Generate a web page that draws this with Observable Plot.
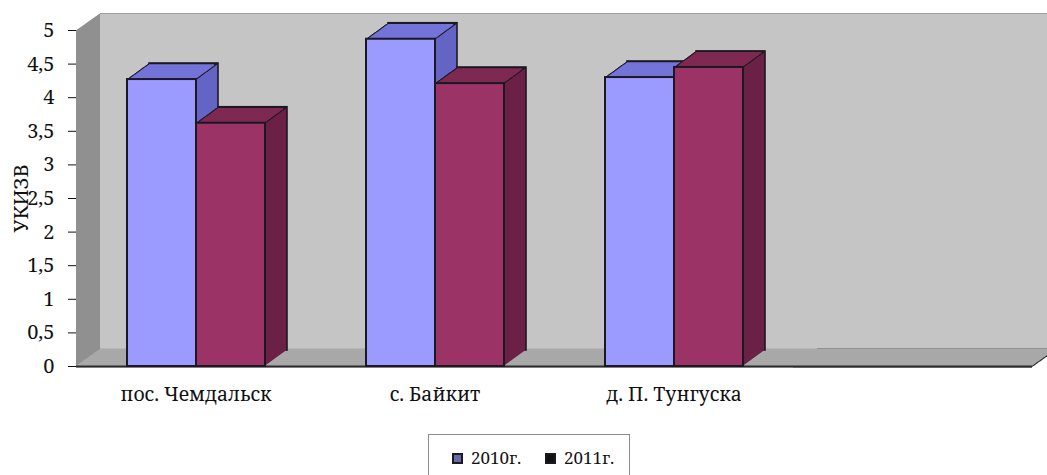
<!DOCTYPE html>
<html><head><meta charset="utf-8">
<script src="https://cdn.jsdelivr.net/npm/d3@7"></script>
<script src="https://cdn.jsdelivr.net/npm/@observablehq/plot@0.6"></script>
<style>
body{margin:0;background:#fff;}
#chart{position:relative;width:1047px;height:475px;overflow:hidden;font-family:"Noto Serif","Liberation Serif",serif;}
#chart svg{position:absolute;left:0;top:0;}
#chart svg [aria-label="y-axis tick"]{stroke:#9a9a9a;}
#chart svg [aria-label="fx-axis tick label"]{font-size:19.4px;}
.legend{position:absolute;left:428px;top:434px;width:202px;height:52px;border:1px solid #8c8c8c;box-sizing:border-box;background:#fff;}
.item{position:absolute;top:12px;font-size:17px;line-height:22px;color:#111;white-space:nowrap;}
.sw{display:inline-block;width:7px;height:7px;border:2px solid #1a1a22;margin-right:8px;vertical-align:0px;}
</style></head><body><div id="chart"></div><script>
const categories = ["пос. Чемдальск", "с. Байкит", "д. П. Тунгуска"];
const slots = [...categories, " "];          // fourth, empty category slot
const years = ["2010г.", "2011г."];
const values2010 = [4.27, 4.87, 4.30];
const values2011 = [3.62, 4.21, 4.45];
const yTicks = [0, 0.5, 1, 1.5, 2, 2.5, 3, 3.5, 4, 4.5, 5];
const yTickLabels = ["0", "0,5", "1", "1,5", "2", "2,5", "3", "3,5", "4", "4,5", "5"];
const yLabel = "УКИЗВ";

const frontColor = {"2010г.": "#9a9aff", "2011г.": "#9c3366"};
const topColor   = {"2010г.": "#7373d8", "2011г.": "#7e2952"};
const sideColor  = {"2010г.": "#6464c4", "2011г.": "#6a2145"};
const edge = "#1c1822";

const data = categories.flatMap((c, i) => [
  {cat: c, year: years[0], value: values2010[i]},
  {cat: c, year: years[1], value: values2011[i]}
]);

const BD = 22, BDY = 16;   // bar depth offset
const WD = 24, WDY = 17;   // wall depth offset
const zero = () => 0;

const marks = [];
// left side wall
for (let k = 0; k <= WD; k++)
  marks.push(Plot.rect([slots[0]], {fx: d => d, fill: "#909090", dx: k, dy: -k * WDY / WD}));
// back wall
marks.push(Plot.rect(slots, {fx: d => d, fill: "#c5c5c5", dx: WD, dy: -WDY}));
marks.push(Plot.ruleY(slots, {fx: d => d, y: () => 5, stroke: "#a0a0a0", strokeWidth: 1, dx: WD, dy: -WDY}));
// floor: right edge dark, then fill
for (let k = 0; k <= WD; k++)
  marks.push(Plot.ruleY([slots[3]], {fx: d => d, y: zero, stroke: "#333", strokeWidth: 2, dx: k, dy: -k * WDY / WD}));
for (let k = 0; k <= WD; k++) {
  marks.push(Plot.ruleY(slots.slice(0, 3), {fx: d => d, y: zero, stroke: "#a9a9a9", strokeWidth: 2, dx: k, dy: -k * WDY / WD}));
  marks.push(Plot.ruleY([slots[3]], {fx: d => d, y: zero, stroke: "#a9a9a9", strokeWidth: 2, insetRight: 2, dx: k, dy: -k * WDY / WD}));
}
// front base line
marks.push(Plot.ruleY(slots, {fx: d => d, y: zero, stroke: "#2b2b2b", strokeWidth: 2.2}));

// bars, series by series
for (const yr of years) {
  const d = data.filter(r => r.year === yr);
  const base = {fx: "cat", x: "year", y: "value"};
  marks.push(Plot.barY(d, {...base, fill: sideColor[yr], stroke: edge, strokeWidth: 1.6, dx: BD, dy: -BDY}));
  for (let k = BD - 1; k >= 1; k--)
    marks.push(Plot.barY(d, {...base, fill: sideColor[yr], dx: k, dy: -k * BDY / BD}));
  for (let k = 0; k <= BD; k++)
    marks.push(Plot.tickY(d, {...base, stroke: edge, strokeWidth: 1.6, dx: k, dy: -k * BDY / BD}));
  for (let k = 0; k <= BD - 2; k++)
    marks.push(Plot.tickY(d, {...base, stroke: topColor[yr], strokeWidth: 1.6, insetLeft: 1.8, insetRight: 1.8, dx: k, dy: -k * BDY / BD}));
  marks.push(Plot.barY(d, {...base, fill: frontColor[yr], stroke: edge, strokeWidth: 2}));
}

const chart = Plot.plot({
  width: 1047,
  height: 410,
  marginTop: 30,
  marginLeft: 75,
  marginRight: 15,
  marginBottom: 44,
  style: {fontSize: "20px", fontFamily: "'Noto Serif','Liberation Serif',serif", color: "#111", background: "transparent", overflow: "visible"},
  fx: {domain: slots, padding: 0, label: null, tickSize: 0, tickPadding: 21, axis: "bottom"},
  x: {domain: years, paddingInner: 0, paddingOuter: 0.72, axis: null},
  y: {domain: [0, 5], ticks: yTicks, tickFormat: v => yTickLabels[yTicks.indexOf(v)], tickSize: 8, tickPadding: 14,
      line: true, label: yLabel, labelArrow: false, labelAnchor: "center", labelOffset: 63},
  marks
});
const root = document.getElementById("chart");
root.appendChild(chart);

const legend = document.createElement("div");
legend.className = "legend";
const lefts = [23, 116];
years.forEach((yr, i) => {
  const it = document.createElement("span");
  it.className = "item";
  it.style.left = lefts[i] + "px";
  const sw = document.createElement("span");
  sw.className = "sw";
  sw.style.background = i === 0 ? "#6a6aa8" : "#111";
  it.appendChild(sw);
  it.appendChild(document.createTextNode(yr));
  legend.appendChild(it);
});
root.appendChild(legend);
</script></body></html>
